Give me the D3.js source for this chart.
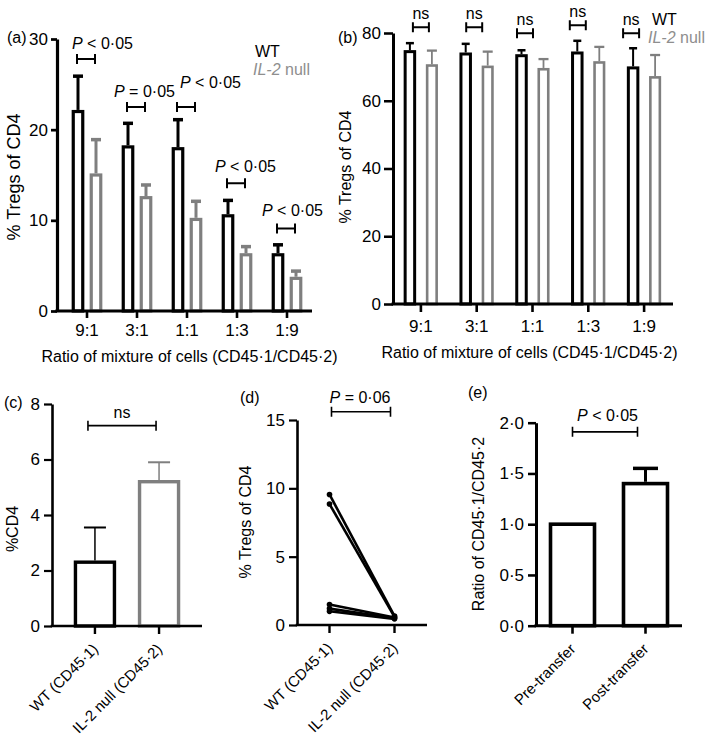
<!DOCTYPE html>
<html><head><meta charset="utf-8">
<script src="https://cdn.jsdelivr.net/npm/d3@7"></script>
<style>body{margin:0;background:#fff}svg{display:block}</style>
</head><body>
<script>
// ---------------- data ----------------
const ratioCats = ["9:1","3:1","1:1","1:3","1:9"];
// panel (a)
const aWT      = [22.0, 18.1, 17.9, 10.5, 6.2];
const aWTsem   = [3.9, 2.6, 3.2, 1.7, 1.1];
const aNull    = [15.0, 12.5, 10.1, 6.2, 3.6];
const aNullSem = [3.9, 1.4, 2.0, 0.9, 0.8];
const aPText   = ["< 0·05","= 0·05","< 0·05","< 0·05","< 0·05"];
const aBracketY = [27.8, 22.5, 22.5, 14.1, 9.1];
const aYTicks  = [0,10,20,30];
// panel (b)
const bWT      = [74.5, 73.8, 73.3, 74.1, 69.7];
const bWTsem   = [2.5, 3.0, 1.6, 3.6, 5.8];
const bNull    = [70.4, 70.0, 69.3, 71.3, 66.9];
const bNullSem = [4.4, 4.5, 3.0, 4.6, 6.6];
const bBracketY = [81.7, 81.7, 79.9, 82.3, 79.9];
const bYTicks  = [0,20,40,60,80];
// panel (c)
const cCats = ["WT (CD45·1)","IL-2 null (CD45·2)"];
const cVals = [2.3, 5.2];
const cSem  = [1.25, 0.7];
const cBracketY = 7.22;
const cYTicks = [0,2,4,6,8];
// panel (d)
const dCats = ["WT (CD45·1)","IL-2 null (CD45·2)"];
const dWT   = [9.55, 8.85, 1.5, 1.2, 1.0];
const dNull = [0.65, 0.6, 0.55, 0.5, 0.45];
const dBracketY = 15.6;
const dYTicks = [0,5,10,15];
// panel (e)
const eCats = ["Pre-transfer","Post-transfer"];
const eVals = [1.0, 1.4];
const eSem  = [0, 0.15];
const eBracketY = 1.91;
const eYTicks = [0,0.5,1.0,1.5,2.0];

// ---------------- layout / style ----------------
const W = 709, H = 742;
const BLACK = "#000", GRAY = "#7f7f7f", LEGEND_GRAY = "#8e8e8e";
const FONT = "'Liberation Sans', Arial, Helvetica, sans-serif";
const TICK_FS = 17;
const dot = v => d3.format(".1f")(v).replace(".", "·");

const svg = d3.select("body").append("svg")
  .attr("width", W).attr("height", H)
  .style("font-family", FONT).style("font-size", "16px");
svg.append("rect").attr("width", W).attr("height", H).attr("fill", "#fff");

function txt(g, x, y, s, opts = {}) {
  const t = g.append("text").attr("x", x).attr("y", y)
    .attr("text-anchor", opts.anchor || "start")
    .attr("fill", opts.fill || BLACK)
    .attr("font-size", opts.size || 16);
  if (opts.italic) t.attr("font-style", "italic");
  t.text(s);
  return t;
}
function pText(g, x, y, rest, anchor) {
  const t = g.append("text").attr("x", x).attr("y", y)
    .attr("text-anchor", anchor || "start").attr("font-size", 16).attr("fill", BLACK);
  t.append("tspan").attr("font-style", "italic").text("P");
  t.append("tspan").text(" " + rest);
  return t;
}
function bracket(g, x1, x2, y, sw) {
  const p = d3.path();
  p.moveTo(x1, y - 5); p.lineTo(x1, y + 5);
  p.moveTo(x1, y); p.lineTo(x2, y);
  p.moveTo(x2, y - 5); p.lineTo(x2, y + 5);
  g.append("path").attr("d", p.toString()).attr("fill", "none")
    .attr("stroke", BLACK).attr("stroke-width", sw || 2);
}
function bar(g, cx, w, y, v, e, color, sw, ew, capW) {
  g.append("rect").attr("x", cx - w / 2).attr("y", y(v))
    .attr("width", w).attr("height", y(0) - y(v))
    .attr("fill", "#fff").attr("stroke", color).attr("stroke-width", sw);
  if (e > 0) {
    g.append("line").attr("x1", cx).attr("x2", cx)
      .attr("y1", y(v) - sw / 2).attr("y2", y(v + e))
      .attr("stroke", color).attr("stroke-width", ew);
    g.append("line").attr("x1", cx - capW / 2).attr("x2", cx + capW / 2)
      .attr("y1", y(v + e)).attr("y2", y(v + e))
      .attr("stroke", color).attr("stroke-width", ew + 0.5);
  }
}
function yAxis(g, x, scale, ticks, fmt, tickLen, pad, sw) {
  const ax = g.append("g").attr("transform", `translate(${x},0)`)
    .call(d3.axisLeft(scale).tickValues(ticks).tickFormat(fmt)
      .tickSize(tickLen).tickSizeOuter(0).tickPadding(pad));
  ax.select(".domain").attr("stroke-width", sw).attr("stroke", BLACK);
  ax.selectAll(".tick line").attr("stroke-width", sw * 0.85).attr("stroke", BLACK);
  ax.selectAll(".tick text").attr("font-size", TICK_FS).attr("font-family", FONT).attr("fill", BLACK);
  return ax;
}
function xAxisLine(g, x1, x2, y, sw) {
  g.append("line").attr("x1", x1 - sw / 2).attr("x2", x2).attr("y1", y).attr("y2", y)
    .attr("stroke", BLACK).attr("stroke-width", sw);
}
function xTicks(g, centers, y, len, sw) {
  centers.forEach(cx => g.append("line").attr("x1", cx).attr("x2", cx)
    .attr("y1", y).attr("y2", y + len).attr("stroke", BLACK).attr("stroke-width", sw));
}
function yTitle(g, x, y, s, size) {
  g.append("text").attr("transform", `translate(${x},${y}) rotate(-90)`)
    .attr("text-anchor", "middle").attr("font-size", size || 16).attr("fill", BLACK).text(s);
}
function rotLabels(g, cats, xs, y) {
  cats.forEach(c => {
    g.append("text")
      .attr("transform", `translate(${xs(c) + 4},${y}) rotate(-45)`)
      .attr("text-anchor", "end").attr("font-size", 15).attr("fill", BLACK)
      .text(c);
  });
}

// ---------------- panel (a) ----------------
{
  const g = svg.append("g");
  const y = d3.scaleLinear().domain([0, 30]).range([311, 39]);
  const x = d3.scaleBand().domain(ratioCats).range([62, 312]);
  const cxs = ratioCats.map(c => x(c) + x.bandwidth() / 2);
  ratioCats.forEach((c, i) => {
    const cx = cxs[i];
    bar(g, cx - 9, 9.5, y, aWT[i], aWTsem[i], BLACK, 3.2, 3, 10);
    bar(g, cx + 9, 9.5, y, aNull[i], aNullSem[i], GRAY, 3.2, 3, 10);
  });
  const textDx = [-15, -23, -7, -22, -25];
  const textDy = [-10, -10, -19, -11, -12];
  ratioCats.forEach((c, i) => {
    const by = y(aBracketY[i]);
    bracket(g, cxs[i] - 10, cxs[i] + 8, by, 2);
    pText(g, cxs[i] + textDx[i], by + textDy[i], aPText[i]);
  });
  xAxisLine(g, 57, 312, 311, 3.2);
  xTicks(g, cxs, 311, 7, 2.6);
  cxs.forEach((cx, i) => txt(g, cx, 336, ratioCats[i], { anchor: "middle", size: TICK_FS }));
  yAxis(g, 57, y, aYTicks, d3.format("d"), 6, 3, 3.2);
  yTitle(g, 20, 177, "% Tregs of CD4", 18);
  txt(g, 189.5, 362, "Ratio of mixture of cells (CD45·1/CD45·2)", { anchor: "middle" });
  txt(g, 7, 43, "(a)");
  txt(g, 255, 57, "WT");
  const lg = g.append("text").attr("x", 253).attr("y", 75).attr("font-size", 16).attr("fill", LEGEND_GRAY);
  lg.append("tspan").attr("font-style", "italic").text("IL-2");
  lg.append("tspan").text(" null");
}

// ---------------- panel (b) ----------------
{
  const g = svg.append("g");
  const y = d3.scaleLinear().domain([0, 80]).range([304, 33]);
  const x = d3.scaleBand().domain(ratioCats).range([393, 672]);
  const cxs = ratioCats.map(c => x(c) + x.bandwidth() / 2);
  ratioCats.forEach((c, i) => {
    const cx = cxs[i];
    bar(g, cx - 11, 9.5, y, bWT[i], bWTsem[i], BLACK, 3, 2, 8);
    bar(g, cx + 11, 9.5, y, bNull[i], bNullSem[i], GRAY, 2.6, 1.8, 10);
  });
  const bracketDx = [0, -2.5, -7.5, -10.5, -13];
  ratioCats.forEach((c, i) => {
    const by = y(bBracketY[i]);
    const bx = cxs[i] + bracketDx[i];
    bracket(g, bx - 8, bx + 8, by, 2);
    txt(g, bx, by - 8, "ns", { anchor: "middle" });
  });
  xAxisLine(g, 393, 673, 304, 3);
  xTicks(g, cxs, 304, 8, 2.6);
  cxs.forEach((cx, i) => txt(g, cx, 332, ratioCats[i], { anchor: "middle", size: TICK_FS }));
  yAxis(g, 393, y, bYTicks, d3.format("d"), 9, 3, 3);
  yTitle(g, 351, 167, "% Tregs of CD4");
  txt(g, 529.5, 358, "Ratio of mixture of cells (CD45·1/CD45·2)", { anchor: "middle" });
  txt(g, 338, 43, "(b)");
  txt(g, 652, 25, "WT");
  const lg = g.append("text").attr("x", 648).attr("y", 43).attr("font-size", 16).attr("fill", LEGEND_GRAY);
  lg.append("tspan").attr("font-style", "italic").text("IL-2");
  lg.append("tspan").text(" null");
}

// ---------------- panel (c) ----------------
{
  const g = svg.append("g");
  const y = d3.scaleLinear().domain([0, 8]).range([626, 404]);
  const x = d3.scalePoint().domain(cCats).range([52, 202]).padding(0.67);
  const colors = [BLACK, GRAY];
  cCats.forEach((c, i) => bar(g, x(c), 39, y, cVals[i], cSem[i], colors[i], 3.4, 1.5, 22));
  bracket(g, x(cCats[0]) - 7, x(cCats[1]) - 3, y(cBracketY), 1.6);
  txt(g, 122, 418, "ns", { anchor: "middle" });
  xAxisLine(g, 52, 202, 626, 2.6);
  xTicks(g, cCats.map(c => x(c)), 626, 8, 2.4);
  rotLabels(g, cCats, x, 650);
  yAxis(g, 52, y, cYTicks, d3.format("d"), 8, 4, 2.6);
  yTitle(g, 18, 529, "%CD4");
  txt(g, 4, 408, "(c)");
}

// ---------------- panel (d) ----------------
{
  const g = svg.append("g");
  const y = d3.scaleLinear().domain([0, 15]).range([625, 420]);
  const x = d3.scalePoint().domain(dCats).range([297, 427]).padding(0.5);
  const pairs = dWT.map((v, i) => [v, dNull[i]]);
  const line = d3.line().x((d, j) => x(dCats[j])).y(d => y(d));
  pairs.forEach(p => {
    g.append("path").attr("d", line(p)).attr("fill", "none")
      .attr("stroke", BLACK).attr("stroke-width", 2.6);
    p.forEach((v, j) => g.append("circle").attr("cx", x(dCats[j])).attr("cy", y(v))
      .attr("r", 2.8).attr("fill", BLACK));
  });
  bracket(g, x(dCats[0]) + 2, x(dCats[1]) - 4, y(dBracketY), 1.6);
  pText(g, 360, 403, "= 0·06", "middle");
  xAxisLine(g, 297, 427, 625, 2.6);
  xTicks(g, dCats.map(c => x(c)), 625, 8, 2.4);
  rotLabels(g, dCats, x, 649);
  yAxis(g, 297, y, dYTicks, d3.format("d"), 8, 4, 2.6);
  yTitle(g, 251, 522, "% Tregs of CD4");
  txt(g, 240, 403, "(d)");
}

// ---------------- panel (e) ----------------
{
  const g = svg.append("g");
  const y = d3.scaleLinear().domain([0, 2]).range([625.7, 422.7]);
  const x = d3.scalePoint().domain(eCats).range([536, 682]).padding(0.5);
  eCats.forEach((c, i) => bar(g, x(c), 44, y, eVals[i], eSem[i], BLACK, 3.6, 3, 25));
  bracket(g, x(eCats[0]), x(eCats[1]) - 8, y(eBracketY), 1.6);
  pText(g, 607.5, 420.7, "< 0·05", "middle");
  xAxisLine(g, 536, 682, 625.7, 3);
  xTicks(g, eCats.map(c => x(c)), 625.7, 8, 2.6);
  rotLabels(g, eCats, x, 650);
  yAxis(g, 536, y, eYTicks, dot, 8, 4, 3);
  yTitle(g, 483.5, 524, "Ratio of CD45·1/CD45·2");
  txt(g, 468, 398, "(e)");
}
</script>
</body></html>
